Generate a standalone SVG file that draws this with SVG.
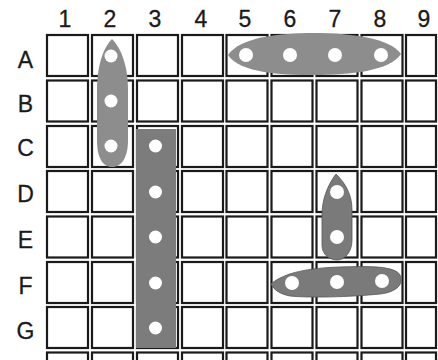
<svg xmlns="http://www.w3.org/2000/svg" width="438" height="360" viewBox="0 0 438 360">
<style>
.c{fill:#fff;stroke:#1a1a1a;stroke-width:2.2}
.lbl{font-family:"Liberation Sans",Arial,sans-serif;font-size:23px;fill:#1a1a1a;stroke:#1a1a1a;stroke-width:0.3;text-anchor:middle}
.p1{fill:#8d8d8d}
.p2{fill:#7c7c7c}
.p3{fill:#7a7a7a;stroke:#555;stroke-width:0.8}
.h{fill:#fff}
</style>
<rect width="438" height="360" fill="#fff"/>
<g id="labels">
<text class="lbl" x="65" y="27">1</text>
<text class="lbl" x="110" y="27">2</text>
<text class="lbl" x="155" y="27">3</text>
<text class="lbl" x="201" y="27">4</text>
<text class="lbl" x="245" y="27">5</text>
<text class="lbl" x="290" y="27">6</text>
<text class="lbl" x="335" y="27">7</text>
<text class="lbl" x="380" y="27">8</text>
<text class="lbl" x="424" y="27">9</text>
<text class="lbl" x="25.5" y="68">A</text>
<text class="lbl" x="25.5" y="112">B</text>
<text class="lbl" x="25.5" y="156">C</text>
<text class="lbl" x="25.5" y="202">D</text>
<text class="lbl" x="25.5" y="248">E</text>
<text class="lbl" x="25.5" y="294">F</text>
<text class="lbl" x="25.5" y="339">G</text>
</g>
<g id="grid">
<rect class="c" x="47" y="35" width="41" height="41"/><rect class="c" x="92" y="35" width="41" height="41"/><rect class="c" x="137" y="35" width="41" height="41"/><rect class="c" x="182" y="35" width="41" height="41"/><rect class="c" x="226.5" y="35" width="41" height="41"/><rect class="c" x="271.5" y="35" width="41" height="41"/><rect class="c" x="316.5" y="35" width="41" height="41"/><rect class="c" x="361.5" y="35" width="41" height="41"/><rect class="c" x="406" y="35" width="30" height="41"/>
<rect class="c" x="47" y="80.5" width="41" height="41"/><rect class="c" x="92" y="80.5" width="41" height="41"/><rect class="c" x="137" y="80.5" width="41" height="41"/><rect class="c" x="182" y="80.5" width="41" height="41"/><rect class="c" x="226.5" y="80.5" width="41" height="41"/><rect class="c" x="271.5" y="80.5" width="41" height="41"/><rect class="c" x="316.5" y="80.5" width="41" height="41"/><rect class="c" x="361.5" y="80.5" width="41" height="41"/><rect class="c" x="406" y="80.5" width="30" height="41"/>
<rect class="c" x="47" y="126" width="41" height="41"/><rect class="c" x="92" y="126" width="41" height="41"/><rect class="c" x="137" y="126" width="41" height="41"/><rect class="c" x="182" y="126" width="41" height="41"/><rect class="c" x="226.5" y="126" width="41" height="41"/><rect class="c" x="271.5" y="126" width="41" height="41"/><rect class="c" x="316.5" y="126" width="41" height="41"/><rect class="c" x="361.5" y="126" width="41" height="41"/><rect class="c" x="406" y="126" width="30" height="41"/>
<rect class="c" x="47" y="171" width="41" height="41"/><rect class="c" x="92" y="171" width="41" height="41"/><rect class="c" x="137" y="171" width="41" height="41"/><rect class="c" x="182" y="171" width="41" height="41"/><rect class="c" x="226.5" y="171" width="41" height="41"/><rect class="c" x="271.5" y="171" width="41" height="41"/><rect class="c" x="316.5" y="171" width="41" height="41"/><rect class="c" x="361.5" y="171" width="41" height="41"/><rect class="c" x="406" y="171" width="30" height="41"/>
<rect class="c" x="47" y="216.5" width="41" height="41"/><rect class="c" x="92" y="216.5" width="41" height="41"/><rect class="c" x="137" y="216.5" width="41" height="41"/><rect class="c" x="182" y="216.5" width="41" height="41"/><rect class="c" x="226.5" y="216.5" width="41" height="41"/><rect class="c" x="271.5" y="216.5" width="41" height="41"/><rect class="c" x="316.5" y="216.5" width="41" height="41"/><rect class="c" x="361.5" y="216.5" width="41" height="41"/><rect class="c" x="406" y="216.5" width="30" height="41"/>
<rect class="c" x="47" y="262" width="41" height="41"/><rect class="c" x="92" y="262" width="41" height="41"/><rect class="c" x="137" y="262" width="41" height="41"/><rect class="c" x="182" y="262" width="41" height="41"/><rect class="c" x="226.5" y="262" width="41" height="41"/><rect class="c" x="271.5" y="262" width="41" height="41"/><rect class="c" x="316.5" y="262" width="41" height="41"/><rect class="c" x="361.5" y="262" width="41" height="41"/><rect class="c" x="406" y="262" width="30" height="41"/>
<rect class="c" x="47" y="307" width="41" height="41"/><rect class="c" x="92" y="307" width="41" height="41"/><rect class="c" x="137" y="307" width="41" height="41"/><rect class="c" x="182" y="307" width="41" height="41"/><rect class="c" x="226.5" y="307" width="41" height="41"/><rect class="c" x="271.5" y="307" width="41" height="41"/><rect class="c" x="316.5" y="307" width="41" height="41"/><rect class="c" x="361.5" y="307" width="41" height="41"/><rect class="c" x="406" y="307" width="30" height="41"/>
<rect class="c" x="47" y="352.5" width="41" height="41"/><rect class="c" x="92" y="352.5" width="41" height="41"/><rect class="c" x="137" y="352.5" width="41" height="41"/><rect class="c" x="182" y="352.5" width="41" height="41"/><rect class="c" x="226.5" y="352.5" width="41" height="41"/><rect class="c" x="271.5" y="352.5" width="41" height="41"/><rect class="c" x="316.5" y="352.5" width="41" height="41"/><rect class="c" x="361.5" y="352.5" width="41" height="41"/><rect class="c" x="406" y="352.5" width="30" height="41"/>
</g>
<g id="piece-2A-2C">
<path class="p1" d="M112,39 C105,46 97,62 97,90 L97,140 C97,160 104,167 112,167 C120,167 128,160 128,140 L128,90 C128,62 119,46 112,39 Z"/>
<circle class="h" cx="111" cy="56" r="6.5"/>
<circle class="h" cx="111" cy="101" r="6.5"/>
<circle class="h" cx="111" cy="146" r="6.5"/>
</g>
<g id="piece-3C-3G">
<rect class="p2" x="136" y="129" width="40" height="219"/>
<circle class="h" cx="155.5" cy="146" r="6.5"/>
<circle class="h" cx="155.5" cy="192" r="6.5"/>
<circle class="h" cx="155.5" cy="237" r="6.5"/>
<circle class="h" cx="155.5" cy="283" r="6.5"/>
<circle class="h" cx="155.5" cy="328" r="6.5"/>
</g>
<g id="piece-5A-8A">
<path class="p1" d="M228,55 C240,37 280,33 314,33 C350,33 390,38 401,54 C390,71 350,75 314,75 C280,75 240,73 228,55 Z"/>
<circle class="h" cx="246" cy="55" r="7"/>
<circle class="h" cx="290" cy="55" r="7"/>
<circle class="h" cx="335" cy="55" r="7"/>
<circle class="h" cx="381" cy="55" r="7"/>
</g>
<g id="piece-7D-7E">
<path class="p3" d="M336,174 C327,186 322,200 322,215 L322,245 C322,255 330,260 337,260 C345,260 352,252 352,240 L352,210 C352,195 346,184 336,174 Z"/>
<circle class="h" cx="337" cy="192" r="7"/>
<circle class="h" cx="337" cy="237" r="7"/>
</g>
<g id="piece-6F-8F">
<path class="p3" d="M271,284 C285,272 310,268 340,267 C370,266 395,266 400,275 C404,283 398,292 380,294 C350,297 310,298 290,296 C280,294 274,290 271,284 Z"/>
<circle class="h" cx="292" cy="283" r="7"/>
<circle class="h" cx="337" cy="282" r="7"/>
<circle class="h" cx="382" cy="281" r="7"/>
</g>
</svg>
